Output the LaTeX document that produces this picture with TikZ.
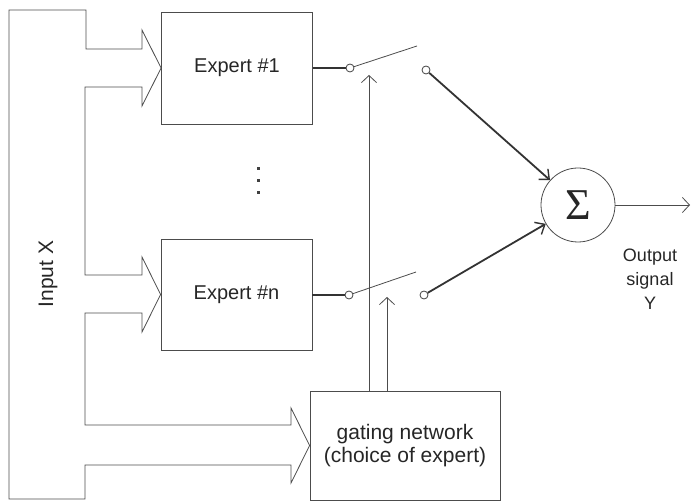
\documentclass[tikz,border=0pt]{standalone}
\usepackage{fontspec}
\setmainfont{Liberation Sans}
\newfontfamily\serifsig{Liberation Serif}
\usetikzlibrary{arrows.meta}
\begin{document}
\begin{tikzpicture}[x=1pt,y=-1pt,
  thinl/.style={draw=black!70, line width=0.8pt},
  thickl/.style={draw=black!80, line width=1.8pt},
  box/.style={rectangle, draw=black!70, line width=0.8pt, inner sep=0pt, text=black!85, font=\fontsize{20}{24}\selectfont},
  contact/.style={circle, draw=black!75, line width=0.8pt, minimum size=8pt, inner sep=0pt},
  tipthin/.style={-{Straight Barb[length=7pt,width=15pt]}},
  tipthick/.style={-{Straight Barb[length=8pt,width=14pt,line width=1.4pt]}},
  dotm/.style={rectangle, fill=black!75, minimum size=3pt, inner sep=0pt},
  lbl/.style={text=black!85, align=center}]
\useasboundingbox (0,0) rectangle (691,502);
% boxes
\node[box, minimum width=151pt, minimum height=112pt] (e1) at (237,68) {Expert \#1};
\node[box, minimum width=151pt, minimum height=111pt] (en) at (236.5,294.5) {Expert \#n};
\node[box, minimum width=190pt, minimum height=109pt, align=center, font=\fontsize{21}{23}\selectfont] (g) at (405,445.5) {gating network\\(choice of expert)};
% input shape
\draw[thinl] (9,10) -- (86,10) -- (86,49) -- (142,49) -- (142,30) -- (e1.west) -- (142,106) -- (142,87) -- (85,87)
  -- (85,275) -- (142,275) -- (142,257) -- (en.west) -- (142,332) -- (142,313) -- (85,313)
  -- (85,425) -- (291,425) -- (291,408) -- (g.west) -- (291,483) -- (291,465) -- (85,465)
  -- (85,499) -- (9,499) -- cycle;
\node[lbl, rotate=90, font=\fontsize{21}{24}\selectfont] (inx) at (48,274) {Input X};
% dots
\node[dotm] (d1) at (258,169) {};
\node[dotm] (d2) at (258,181) {};
\node[dotm] (d3) at (258,193) {};
% switches
\node[contact] (c1a) at (350,68) {};
\node[contact] (c1b) at (426,70) {};
\node[contact] (cna) at (349,295) {};
\node[contact] (cnb) at (424,295) {};
\coordinate (l1) at (417,46);
\coordinate (ln) at (416,272);
\draw[thickl] (e1.east) -- (c1a);
\draw[thickl] (en.east |- cna) -- (cna);
\draw[thinl] (c1a) -- (l1);
\draw[thinl] (cna) -- (ln);
% sum
\node[circle, draw=black!70, line width=0.8pt, minimum size=74pt, inner sep=0pt, text=black!85] (s) at (578,205) {\serifsig\fontsize{44}{44}\selectfont Σ};
\draw[thickl, tipthick] (c1b) -- (s);
\draw[thickl, tipthick] (cnb) -- (s);
\coordinate (out) at (690,205);
\draw[thinl, tipthin] (s) -- (out);
\node[lbl, font=\fontsize{18}{24}\selectfont] (ol) at (650,279) {Output\\signal\\Y};
% gating control lines
\coordinate (a1) at (369,75);
\coordinate (a2) at (387,297);
\draw[thinl, tipthin] (g.north -| a1) -- (a1);
\draw[thinl, tipthin] (g.north -| a2) -- (a2);
\end{tikzpicture}
\end{document}
